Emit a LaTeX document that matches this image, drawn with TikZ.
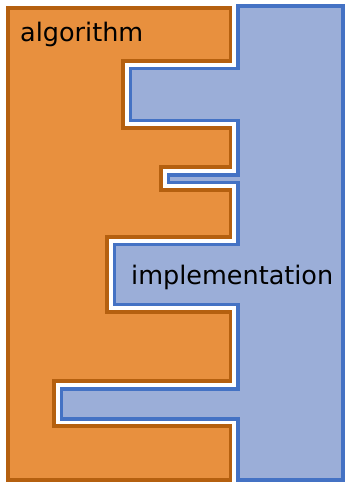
\documentclass[tikz,border=0pt]{standalone}
\usepackage{fontspec}
\setmainfont{DejaVu Sans}
\definecolor{orfill}{HTML}{E8903E}
\definecolor{ordraw}{HTML}{B5600F}
\definecolor{blfill}{HTML}{9BAED8}
\definecolor{bldraw}{HTML}{4472C4}
\tikzset{
  algshape/.style={fill=orfill, draw=ordraw, line width=3.6pt},
  impshape/.style={fill=blfill, draw=bldraw, line width=3.6pt},
  lbl/.style={anchor=base west, inner sep=0pt, font=\fontsize{25.5pt}{30pt}\selectfont, text=black}
}
\begin{document}
\begin{tikzpicture}[x=1pt,y=-1pt]
\useasboundingbox (0,0) rectangle (345,483);
\draw[algshape] (8,8) -- (230.5,8) -- (230.5,61) -- (123,61) -- (123,128) -- (230.5,128)
  -- (230.5,167) -- (161,167) -- (161,190) -- (230.5,190) -- (230.5,237) -- (107,237)
  -- (107,312) -- (230.5,312) -- (230.5,381) -- (54,381) -- (54,426) -- (230.5,426)
  -- (230.5,480) -- (8,480) -- cycle;
\draw[impshape] (238,6) -- (343,6) -- (343,480) -- (238,480) -- (238,419) -- (61.5,419)
  -- (61.5,389) -- (238,389) -- (238,304.5) -- (114.5,304.5) -- (114.5,244.5) -- (238,244.5)
  -- (238,182.5) -- (168.5,182.5) -- (168.5,175) -- (238,175) -- (238,120.5) -- (130.5,120.5)
  -- (130.5,68.5) -- (238,68.5) -- cycle;
\node[lbl] (alg) at (20,41.5) {algorithm};
\node[lbl] (imp) at (131,284) {implementation};
\end{tikzpicture}
\end{document}
